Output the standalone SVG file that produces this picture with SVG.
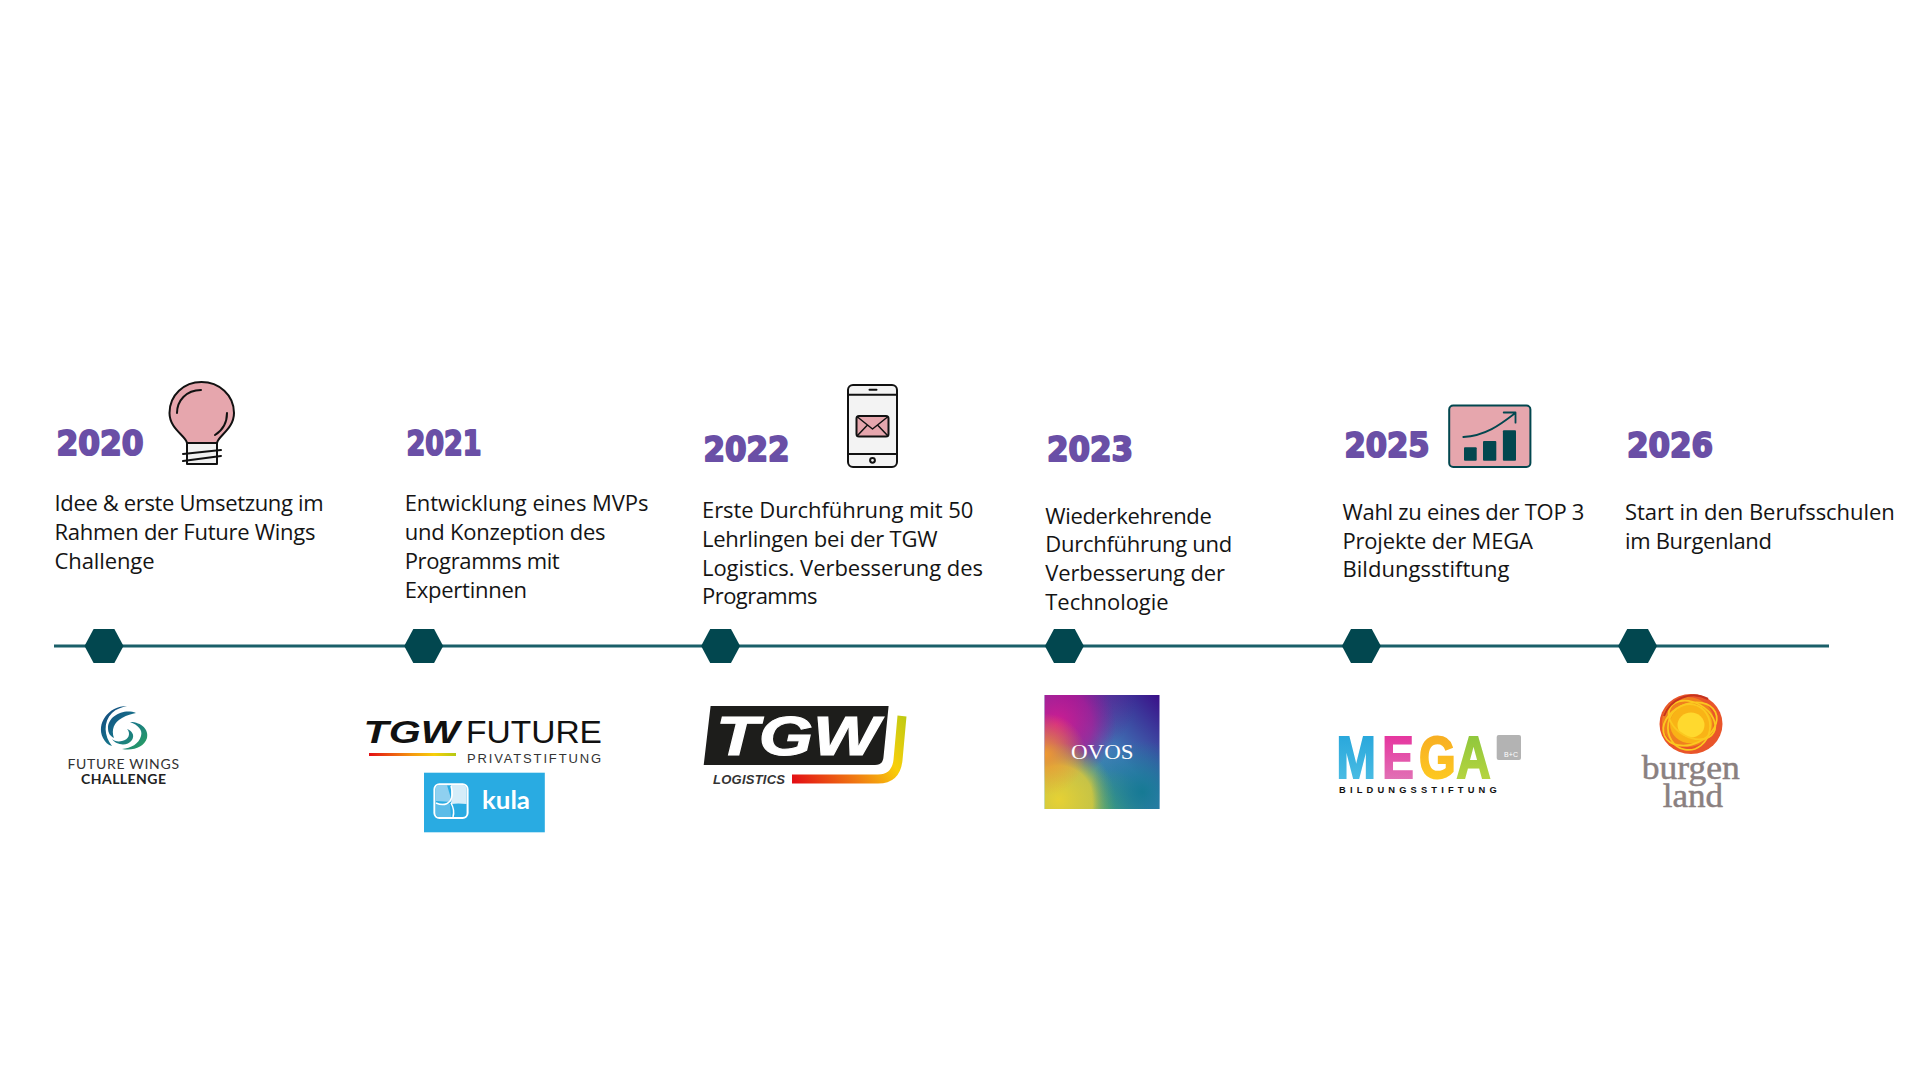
<svg xmlns="http://www.w3.org/2000/svg" width="1920" height="1080" viewBox="0 0 1920 1080">
<style>
.yr{font-family:"DejaVu Sans","Roboto",sans-serif;font-weight:700;font-size:33.5px;fill:#6a4fa6;stroke:#6a4fa6;stroke-width:2px;stroke-linejoin:round}
.bd{font-family:"Open Sans","Noto Sans",sans-serif;font-size:22px;fill:#141414}
.hex{fill:#02474f}
.ln{fill:none;stroke:#111;stroke-width:2;stroke-linecap:round;stroke-linejoin:round}
.pink{fill:#e6a6ad}
</style>
<defs>
<linearGradient id="bar" x1="0" x2="1" y1="0" y2="0"><stop offset="0" stop-color="#e30f14"/><stop offset=".5" stop-color="#f59a10"/><stop offset=".75" stop-color="#f7cf0a"/><stop offset="1" stop-color="#b5c914"/></linearGradient>
<linearGradient id="swoosh" gradientUnits="userSpaceOnUse" x1="800" y1="790" x2="912" y2="715"><stop offset="0" stop-color="#e30f14"/><stop offset=".4" stop-color="#f07d12"/><stop offset=".68" stop-color="#f9cf0a"/><stop offset="1" stop-color="#b5c914"/></linearGradient>
<linearGradient id="swirl" gradientUnits="userSpaceOnUse" x1="104" y1="708" x2="146" y2="750"><stop offset="0" stop-color="#14497f"/><stop offset=".5" stop-color="#16748a"/><stop offset="1" stop-color="#2ba25f"/></linearGradient>
<linearGradient id="base" x1="1" y1="0" x2="0" y2="1"><stop offset="0" stop-color="#3a0f88"/><stop offset=".45" stop-color="#3f7cb8"/><stop offset="1" stop-color="#2a9a8c"/></linearGradient>
<radialGradient id="mag" cx=".1" cy=".26" r=".52"><stop offset="0" stop-color="#d41c90"/><stop offset=".6" stop-color="#b01c98" stop-opacity=".7"/><stop offset="1" stop-color="#8a1a9a" stop-opacity="0"/></radialGradient>
<radialGradient id="pur" cx=".2" cy="0" r=".6"><stop offset="0" stop-color="#8a1490"/><stop offset="1" stop-color="#6a1490" stop-opacity="0"/></radialGradient>
<radialGradient id="yel" cx=".12" cy=".92" r=".5"><stop offset="0" stop-color="#e6d134"/><stop offset=".6" stop-color="#dfcc38" stop-opacity=".85"/><stop offset="1" stop-color="#7db45a" stop-opacity="0"/></radialGradient>
<radialGradient id="grn" cx=".55" cy="1" r=".35"><stop offset="0" stop-color="#4fa876"/><stop offset="1" stop-color="#4fa876" stop-opacity="0"/></radialGradient>
<radialGradient id="org" cx="0" cy=".52" r=".36"><stop offset="0" stop-color="#f09a30"/><stop offset="1" stop-color="#f09a30" stop-opacity="0"/></radialGradient>
<radialGradient id="tea" cx=".85" cy=".85" r=".45"><stop offset="0" stop-color="#167a94"/><stop offset="1" stop-color="#167a94" stop-opacity="0"/></radialGradient>
<linearGradient id="gm" x1="0" y1="0" x2="0" y2="1"><stop offset="0" stop-color="#22a3da"/><stop offset="1" stop-color="#50c0e5"/></linearGradient>
<linearGradient id="ge" x1="0" y1="0" x2="0" y2="1"><stop offset="0" stop-color="#e7279a"/><stop offset="1" stop-color="#e07fba"/></linearGradient>
<linearGradient id="gg" x1="0" y1="0" x2="0" y2="1"><stop offset="0" stop-color="#f6a823"/><stop offset="1" stop-color="#ffcf20"/></linearGradient>
<linearGradient id="ga" x1="0" y1="0" x2="0" y2="1"><stop offset="0" stop-color="#86c43c"/><stop offset="1" stop-color="#bfd740"/></linearGradient>
<polygon id="hx" class="hex" points="-19.5,0 -10.4,-17 10.4,-17 19.5,0 10.4,17 -10.4,17"/>
</defs>
<rect width="1920" height="1080" fill="#fff"/>

<g id="connectors"><line x1="54" y1="646" x2="1829" y2="646" stroke="#1a5f69" stroke-width="3"/></g>

<g id="node-2020">
<use href="#hx" x="104" y="646"/>
<text class="yr" x="56.5" y="455" textLength="87" lengthAdjust="spacingAndGlyphs">2020</text>
<text class="bd"><tspan x="54.5" y="510.7" textLength="269">Idee &amp; erste Umsetzung im</tspan><tspan x="54.5" y="539.5" textLength="261">Rahmen der Future Wings</tspan><tspan x="54.5" y="568.8" textLength="100">Challenge</tspan></text>
<g id="icon-bulb">
<path class="ln pink" d="M187,443C186,436 169.5,429 169.5,413C169.5,395 184,382 201.5,382C219,382 234,395 234,413C234,429 218,436 217,443Z"/>
<rect class="ln" x="187" y="443" width="30" height="21" style="fill:#f1f1f1"/>
<path class="ln" d="M183,454L221,450M183,461L221,456M177,413C177,401 186,390 201,390M227,413C227,422 223,430 215,435"/>
</g>
<g id="logo-future-wings">
<path fill="url(#swirl)" d="M127,706C108,706 96,724 103,738C105,742 108,745 112,746C104,736 103,722 112,713C116,709 122,707 127,706Z"/>
<path fill="url(#swirl)" d="M136,713C124,708 108,716 108,728C108,733 110,736 114,738C111,730 114,722 122,718C127,715 132,714 136,713Z"/>
<path fill="url(#swirl)" d="M130,722C142,722 149,730 147,738C144,747 134,751 122,749C131,748 139,744 141,736C143,730 138,725 130,722Z"/>
<path fill="url(#swirl)" d="M127,729C131,733 129,740 122,741C118,742 114,741 112,739C116,745 127,747 132,740C135,735 132,731 127,729Z"/>
<text x="67.5" y="769.3" font-family="Lato,'Open Sans',sans-serif" font-size="14" fill="#333" textLength="111.5">FUTURE WINGS</text>
<text x="81" y="784" font-family="Lato,'Open Sans',sans-serif" font-size="14" font-weight="700" fill="#222" textLength="85">CHALLENGE</text>
</g>
</g>

<g id="node-2021">
<use href="#hx" x="423.7" y="646"/>
<text class="yr" x="406.5" y="455" textLength="75" lengthAdjust="spacingAndGlyphs">2021</text>
<text class="bd"><tspan x="404.7" y="510.7" textLength="243.7">Entwicklung eines MVPs</tspan><tspan x="404.7" y="539.5" textLength="200.8">und Konzeption des</tspan><tspan x="404.7" y="568.8" textLength="155">Programms mit</tspan><tspan x="404.7" y="597.6" textLength="122.4">Expertinnen</tspan></text>
<g id="logo-tgw-future">
<text x="363.5" y="743.3" font-family="'Liberation Sans',sans-serif" font-size="31" font-weight="700" font-style="italic" fill="#111" textLength="96" lengthAdjust="spacingAndGlyphs">TGW</text>
<text x="466" y="743.3" font-family="'Liberation Sans',sans-serif" font-size="31" fill="#111" textLength="136" lengthAdjust="spacingAndGlyphs">FUTURE</text>
<rect x="369" y="753" width="87" height="3" fill="url(#bar)"/>
<text x="467" y="762.7" font-family="'Liberation Sans',sans-serif" font-size="13" fill="#333" textLength="134">PRIVATSTIFTUNG</text>
</g>
<g id="logo-kula">
<rect x="424" y="772.7" width="120.8" height="59.6" fill="#29abe2"/>
<rect x="434.4" y="784.3" width="33.2" height="33.7" rx="5" fill="#29abe2" stroke="#fff" stroke-width="2"/>
<path d="M451,785H463Q466.6,785 466.6,789V804Q458,803 451,804Z" fill="#d5edf9"/>
<path d="M436,787Q436,785 439,785H447L452,802L436,801Z" fill="#8fd0f0"/>
<path d="M436,803L450,804L451,817H439Q436,817 436,814Z" fill="#5cbce8"/>
<path d="M450,801Q445,807 436,803M451,803Q455,810 453,817M451,786Q454,796 450,801" fill="none" stroke="#fff" stroke-width="1.5"/>
<text x="482" y="809.3" font-family="Lato,Roboto,sans-serif" font-size="25" font-weight="700" fill="#fff" textLength="48" lengthAdjust="spacingAndGlyphs">kula</text>
</g>
</g>

<g id="node-2022">
<use href="#hx" x="720.6" y="646"/>
<text class="yr" x="703.5" y="461" textLength="86" lengthAdjust="spacingAndGlyphs">2022</text>
<text class="bd"><tspan x="702" y="517.7" textLength="271.4">Erste Durchführung mit 50</tspan><tspan x="702" y="546.7" textLength="235.5">Lehrlingen bei der TGW</tspan><tspan x="702" y="575.8" textLength="281">Logistics. Verbesserung des</tspan><tspan x="702" y="604.2" textLength="115.5">Programms</tspan></text>
<g id="icon-phone">
<rect class="ln" x="848" y="385" width="49" height="82" rx="5" style="fill:#f3f3f3"/>
<path class="ln" d="M848,394.7H897M848,454H897M869.5,389.7H876.5"/>
<circle class="ln" cx="872.5" cy="460.3" r="2.4" style="fill:#f3f3f3"/>
<rect class="ln pink" x="856.5" y="416" width="32" height="20.5" rx="2.5"/>
<path class="ln" d="M857.5,417L872.5,429L887.5,417M857.5,435.5L867,425.5M887.5,435.5L878,425.5" style="stroke-width:1.5"/>
</g>
<g id="logo-tgw-logistics">
<path d="M710.6,706H888.6L883.5,757Q883,765 875,765H703.7Z" fill="#1d1d1b"/>
<text x="716" y="755" font-family="'Liberation Sans',sans-serif" font-size="55" font-weight="700" font-style="italic" fill="#fff" stroke="#fff" stroke-width="1" textLength="163" lengthAdjust="spacingAndGlyphs">TGW</text>
<path d="M792,779H878Q896,779 898,760L902,716" fill="none" stroke="url(#swoosh)" stroke-width="9"/>
<text x="713" y="783.7" font-family="'Liberation Sans',sans-serif" font-size="13" font-weight="700" font-style="italic" fill="#333" textLength="72">LOGISTICS</text>
</g>
</g>

<g id="node-2023">
<use href="#hx" x="1064.4" y="646"/>
<text class="yr" x="1047" y="461" textLength="86" lengthAdjust="spacingAndGlyphs">2023</text>
<text class="bd"><tspan x="1045.3" y="523.7" textLength="166.5">Wiederkehrende</tspan><tspan x="1045.3" y="552.3" textLength="187">Durchführung und</tspan><tspan x="1045.3" y="581" textLength="179.6">Verbesserung der</tspan><tspan x="1045.3" y="610" textLength="123.3">Technologie</tspan></text>
<g id="logo-ovos">
<rect x="1044.7" y="695" width="114.8" height="114" fill="url(#base)"/>
<rect x="1044.7" y="695" width="114.8" height="114" fill="url(#pur)"/>
<rect x="1044.7" y="695" width="114.8" height="114" fill="url(#mag)"/>
<rect x="1044.7" y="695" width="114.8" height="114" fill="url(#grn)"/>
<rect x="1044.7" y="695" width="114.8" height="114" fill="url(#yel)"/>
<rect x="1044.7" y="695" width="114.8" height="114" fill="url(#org)"/>
<rect x="1044.7" y="695" width="114.8" height="114" fill="url(#tea)"/>
<text x="1071" y="759" font-family="'Liberation Serif',serif" font-size="21" fill="#fff" textLength="62.5" lengthAdjust="spacingAndGlyphs">OVOS</text>
</g>
</g>

<g id="node-2025">
<use href="#hx" x="1361.4" y="646"/>
<text class="yr" x="1344.5" y="457" textLength="85" lengthAdjust="spacingAndGlyphs">2025</text>
<text class="bd"><tspan x="1342.4" y="520" textLength="242">Wahl zu eines der TOP 3</tspan><tspan x="1342.4" y="548.7" textLength="190.6">Projekte der MEGA</tspan><tspan x="1342.4" y="577" textLength="167">Bildungsstiftung</tspan></text>
<g id="icon-chart">
<rect class="pink" x="1449.2" y="405.6" width="81.2" height="61.4" rx="4" stroke="#02474f" stroke-width="2"/>
<rect class="hex" x="1464" y="447.3" width="12.7" height="13.4" rx="1"/>
<rect class="hex" x="1483" y="441" width="13.3" height="19.7" rx="1"/>
<rect class="hex" x="1502.9" y="430.3" width="13.1" height="30.4" rx="1"/>
<path d="M1463.3,437C1485,436 1500,425 1515,413.3M1503.7,412.5H1515.5V422.7" fill="none" stroke="#02474f" stroke-width="1.8" stroke-linecap="round" stroke-linejoin="round"/>
</g>
<g id="logo-mega">
<text transform="translate(1339,778) scale(.8,1)" font-family="'Liberation Sans',sans-serif" font-size="59" font-weight="700" stroke-width="2"><tspan x="-3" y="0" fill="url(#gm)" stroke="url(#gm)">M</tspan><tspan x="54" y="0" fill="url(#ge)" stroke="url(#ge)">E</tspan><tspan x="100" y="0" fill="url(#gg)" stroke="url(#gg)">G</tspan><tspan x="147" y="0" fill="url(#ga)" stroke="url(#ga)">A</tspan></text>
<rect x="1496.7" y="735" width="24.3" height="25" rx="2" fill="#b3b3b3"/>
<text x="1504" y="757" font-family="'Liberation Sans',sans-serif" font-size="7" fill="#fff" textLength="14">B+C</text>
<text x="1339" y="792.7" font-family="'Liberation Sans',sans-serif" font-size="9.3" font-weight="700" fill="#111" textLength="157.7">BILDUNGSSTIFTUNG</text>
</g>
</g>

<g id="node-2026">
<use href="#hx" x="1637.6" y="646"/>
<text class="yr" x="1627" y="457" textLength="86" lengthAdjust="spacingAndGlyphs">2026</text>
<text class="bd"><tspan x="1625" y="520" textLength="269.8">Start in den Berufsschulen</tspan><tspan x="1625" y="548.7" textLength="147">im Burgenland</tspan></text>
<g id="logo-burgenland">
<ellipse cx="1691" cy="724" rx="31.5" ry="30" fill="#e9552a"/>
<ellipse cx="1688" cy="722" rx="26" ry="25" fill="#f07f1f"/>
<ellipse cx="1691" cy="724" rx="21" ry="19.5" fill="#f9b316"/>
<ellipse cx="1691" cy="725" rx="13.5" ry="12.5" fill="#ffd92e"/>
<g fill="none" stroke="#fbc81f" stroke-width="1.8">
<ellipse cx="1690" cy="724" rx="28" ry="20" transform="rotate(-25 1690 724)"/>
<ellipse cx="1692" cy="720" rx="25" ry="17" transform="rotate(30 1692 720)"/>
<ellipse cx="1689" cy="727" rx="21" ry="23" transform="rotate(10 1689 727)"/>
</g>
<path d="M1664,716C1670,699 1691,690 1708,699" fill="none" stroke="#c6331e" stroke-width="2"/>
<text x="1641.7" y="779" font-family="'Liberation Serif',serif" font-size="34" fill="#8a8080" stroke="#8a8080" stroke-width=".5" textLength="98" lengthAdjust="spacingAndGlyphs">burgen</text>
<text x="1662.7" y="807.3" font-family="'Liberation Serif',serif" font-size="34" fill="#8a8080" stroke="#8a8080" stroke-width=".5" textLength="60.3" lengthAdjust="spacingAndGlyphs">land</text>
</g>
</g>
</svg>
